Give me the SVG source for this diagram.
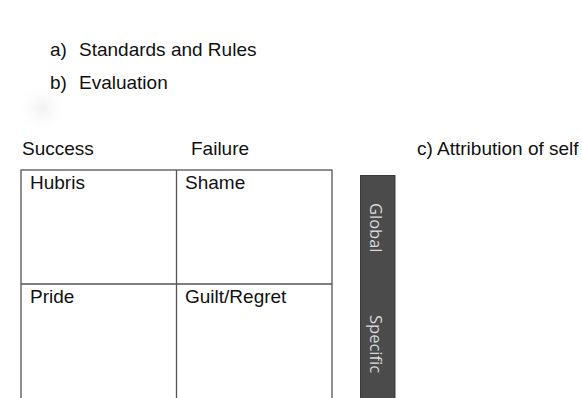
<svg xmlns="http://www.w3.org/2000/svg" width="582" height="398" viewBox="0 0 582 398">
<style>
.t{font-family:"Liberation Sans",Arial,sans-serif;font-size:19px;fill:#111}
.b{font-family:"Open Sans","DejaVu Sans",sans-serif;font-size:16.5px;fill:#d9d9d9}
.g{fill:none;stroke:#555;stroke-width:1.3}
</style>
<defs>
<radialGradient id="smudge"><stop offset="0" stop-color="#f1f1f1"/><stop offset="1" stop-color="#ffffff" stop-opacity="0"/></radialGradient>
</defs>
<rect width="582" height="398" fill="#fff"/>
<circle cx="42" cy="108" r="26" fill="url(#smudge)"/>
<g id="list">
<text class="t" x="50" y="56">a)</text><text class="t" x="79" y="56">Standards and Rules</text>
<text class="t" x="50" y="89">b)</text><text class="t" x="79" y="89">Evaluation</text>
</g>
<g id="headers">
<text class="t" x="22" y="155">Success</text>
<text class="t" x="191" y="155">Failure</text>
<text class="t" x="417" y="155">c) Attribution of self</text>
</g>
<g id="connectors">
<rect class="g" x="21" y="170" width="311" height="240"/>
<line class="g" x1="176.5" y1="170" x2="176.5" y2="410"/>
<line class="g" x1="21" y1="284" x2="332" y2="284"/>
</g>
<g id="hubris"><text class="t" x="30" y="189">Hubris</text></g>
<g id="shame"><text class="t" x="185" y="189">Shame</text></g>
<g id="pride"><text class="t" x="30" y="303">Pride</text></g>
<g id="guilt"><text class="t" x="185" y="303">Guilt/Regret</text></g>
<g id="bar">
<rect x="360.5" y="175.5" width="34.5" height="240" fill="#4b4b4b" stroke="#3a3a3a" stroke-width="1"/>
<text class="b" transform="translate(370,203) rotate(90)">Global</text>
<text class="b" transform="translate(370,315) rotate(90)">Specific</text>
</g>
</svg>
